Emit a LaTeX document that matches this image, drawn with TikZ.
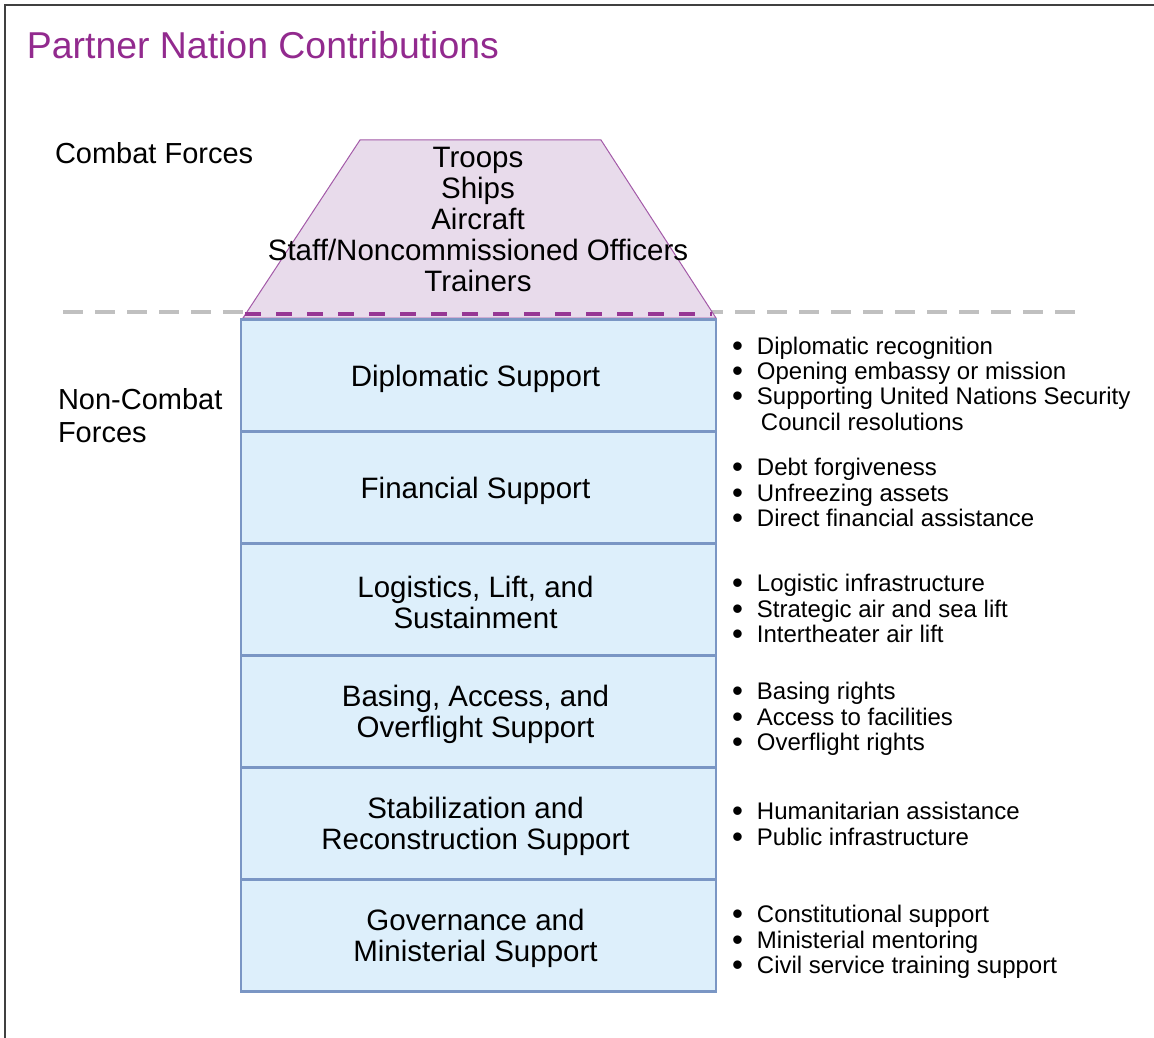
\documentclass[tikz,border=0pt]{standalone}
\usepackage{fontspec}
\usepackage{graphicx}
\setmainfont{Liberation Sans}
\usetikzlibrary{positioning}

\definecolor{titlepurple}{RGB}{146,42,142}
\definecolor{trapfill}{RGB}{232,219,235}
\definecolor{trapedge}{RGB}{163,90,168}
\definecolor{splitpurple}{RGB}{150,55,148}
\definecolor{boxfill}{RGB}{221,239,251}
\definecolor{boxedge}{RGB}{122,150,196}
\definecolor{splitgray}{RGB}{192,192,192}
\definecolor{framegray}{RGB}{64,64,64}

\newcommand{\itembul}{\raisebox{-2pt}[0pt][0pt]{\scalebox{1.3}{\textbullet}}}

\begin{document}
\begin{tikzpicture}[x=1pt,y=-1pt,node distance=0pt,semithick]
  \tikzstyle{every node}=[inner sep=0pt,outer sep=0pt,text=black]
  \tikzstyle{row}=[draw=boxedge,fill=boxfill,line width=2.4pt,minimum width=475pt,
                   minimum height=112pt]
  \tikzstyle{rowtext}=[align=center,font=\fontsize{29.5}{31}\selectfont]
  \tikzstyle{items}=[anchor=west,font=\fontsize{24}{25.3}\selectfont]
  \tikzstyle{side}=[anchor=west,align=left,font=\fontsize{29}{33}\selectfont]

  \useasboundingbox (0,0) rectangle (1154,1038);

  % frame (only top and left edges show)
  \draw[framegray,line width=2.5pt] (5,1040) -- (5,5) -- (1156,5);

  \node[anchor=west,font=\fontsize{37.4}{40}\selectfont,text=titlepurple] (title) at (27,45) {Partner Nation Contributions};

  % combat / non-combat split
  \draw[splitgray,line width=3.3pt,dash pattern=on 20pt off 12pt] (63,312) -- (1077,312);

  \filldraw[fill=trapfill,draw=trapedge,line width=1pt] (243,318) -- (360,140) -- (601,140) -- (716,318) -- cycle;
  \node[rowtext] (combat) at (478,219)
    {Troops\\Ships\\Aircraft\\Staff/Noncommissioned Officers\\Trainers};

  \node[side] (cflabel)  at (55,153) {Combat Forces};
  \node[side] (ncflabel) at (58,416) {Non-Combat\\Forces};

  \node[row]                 (dipl) at (478.5,375.5) {};
  \node[row,below=of dipl]   (fin)  {};
  \node[row,below=of fin]    (log)  {};
  \node[row,below=of log]    (bas)  {};
  \node[row,below=of bas]    (stab) {};
  \node[row,below=of stab]   (gov)  {};

  \node[rowtext] (dipltext) at ([shift={(-3,3)}]dipl.center) {Diplomatic Support};
  \node[rowtext] (fintext)  at ([shift={(-3,3)}]fin.center)  {Financial Support};
  \node[rowtext] (logtext)  at ([shift={(-3,3)}]log.center)  {Logistics, Lift, and\\Sustainment};
  \node[rowtext] (bastext)  at ([shift={(-3,3)}]bas.center)  {Basing, Access, and\\Overflight Support};
  \node[rowtext] (stabtext) at ([shift={(-3,3)}]stab.center) {Stabilization and\\Reconstruction Support};
  \node[rowtext] (govtext)  at ([shift={(-3,3)}]gov.center)  {Governance and\\Ministerial Support};

  \draw[splitpurple,line width=3.5pt,dash pattern=on 16pt off 15pt] (245,314) -- (712,314);

  \node[items] (dipllist) at (732,387) {\begin{tabular}{@{}l@{\hspace{14pt}}l@{}}
    \itembul & Diplomatic recognition\\
    \itembul & Opening embassy or mission\\
    \itembul & Supporting United Nations Security\\
             & \,Council resolutions\end{tabular}};
  \node[items] (finlist) at (732,496) {\begin{tabular}{@{}l@{\hspace{14pt}}l@{}}
    \itembul & Debt forgiveness\\
    \itembul & Unfreezing assets\\
    \itembul & Direct financial assistance\end{tabular}};
  \node[items] (loglist) at (732,612) {\begin{tabular}{@{}l@{\hspace{14pt}}l@{}}
    \itembul & Logistic infrastructure\\
    \itembul & Strategic air and sea lift\\
    \itembul & Intertheater air lift\end{tabular}};
  \node[items] (baslist) at (732,720) {\begin{tabular}{@{}l@{\hspace{14pt}}l@{}}
    \itembul & Basing rights\\
    \itembul & Access to facilities\\
    \itembul & Overflight rights\end{tabular}};
  \node[items] (stablist) at (732,827.5) {\begin{tabular}{@{}l@{\hspace{14pt}}l@{}}
    \itembul & Humanitarian assistance\\
    \itembul & Public infrastructure\end{tabular}};
  \node[items] (govlist) at (732,943) {\begin{tabular}{@{}l@{\hspace{14pt}}l@{}}
    \itembul & Constitutional support\\
    \itembul & Ministerial mentoring\\
    \itembul & Civil service training support\end{tabular}};
\end{tikzpicture}
\end{document}
